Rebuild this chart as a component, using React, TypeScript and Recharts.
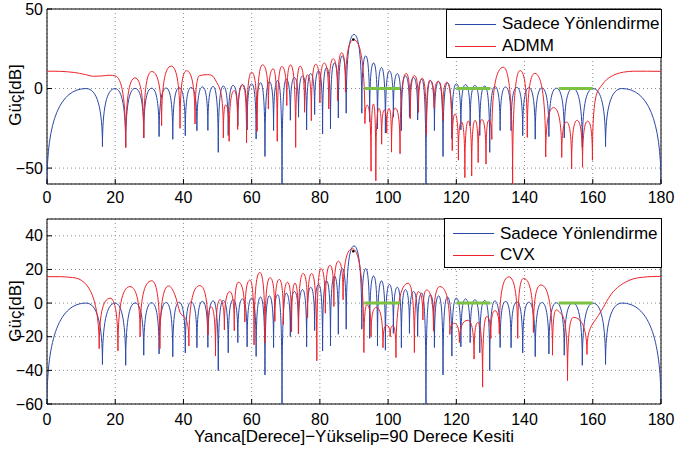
import React from 'react';
import {
  LineChart,
  Line,
  XAxis,
  YAxis,
  CartesianGrid,
  ReferenceArea,
  ReferenceLine,
  ReferenceDot,
} from 'recharts';

const FONT = '"Liberation Sans", Arial, Helvetica, sans-serif';

const X_TICKS = [0, 20, 40, 60, 80, 100, 120, 140, 160, 180];
const TOP_Y_TICKS = [-50, 0, 50];
const BOTTOM_Y_TICKS = [-60, -40, -20, 0, 20, 40];
const Y_DOMAIN = [-60, 50];
const X_DOMAIN = [0, 180];

const CONSTRAINT_BANDS = [
  [93, 103.5],
  [120, 130],
  [150, 160],
];

const LABEL_STEERING = 'Sadece Yönlendirme';
const LABEL_ADMM = 'ADMM';
const LABEL_CVX = 'CVX';
const Y_LABEL = 'Güç[dB]';
const X_LABEL = 'Yanca[Derece]−Yükselip=90 Derece Kesiti';

// steering-only pattern (same in both panels): [angle, dB]
const STEERING = [
  [0, -60], [11.48, 0], [16.26, -36.5], [19.95, 0], [23.07, -37], [25.84, 0.1], [28.36, -31], [30.68, 0.2],
  [32.86, -30.2], [34.92, 0.3], [36.87, -31.9], [38.74, 0.5], [40.54, -29.6], [42.27, 0.7], [43.95, -26.5],
  [45.57, 1.0], [47.16, -26.3], [48.7, 1.3], [50.21, -40.1], [51.68, 1.6], [53.13, -29.5], [54.55, 2.0],
  [55.94, -23.5], [57.32, 2.5], [58.67, -26], [60.0, 3.0], [61.31, -31.7], [62.61, 3.6], [63.9, -42.7],
  [65.17, 4.3], [66.42, -26.4], [67.67, 5.0], [68.9, -60], [70.12, 5.9], [71.34, -19.9], [72.54, 6.9],
  [73.74, -18], [74.93, 8.0], [76.11, -26], [77.29, 9.4], [78.46, -16.3], [79.63, 11.1], [80.79, -28.5],
  [81.95, 13.2], [83.11, -25.4], [84.26, 16.1], [85.41, -18.5], [86.56, 20.5], [87.71, -15.5], [90.0, 34],
  [92.29, -15.5], [93.44, 20.5], [94.59, -21], [95.74, 16.1], [96.89, -25.4], [98.05, 13.2], [99.21, -28],
  [100.37, 11.1], [101.54, -18], [102.71, 9.4], [103.89, -26.5], [105.07, 8.0], [106.26, -18], [107.46, 6.9],
  [108.66, -19.8], [109.88, 5.9], [111.1, -60], [112.33, 5.0], [113.58, -26.4], [114.83, 4.3], [116.1, -42.7],
  [117.39, 3.6], [118.69, -31.5], [120.0, 3.0], [121.33, -26], [122.68, 2.5], [124.06, -23.5], [125.45, 2.0],
  [126.87, -29.5], [128.32, 1.6], [129.79, -40.1], [131.3, 1.3], [132.84, -26.4], [134.43, 1.0], [136.05, -26.5],
  [137.73, 0.7], [139.46, -29.6], [141.26, 0.5], [143.13, -31.8], [145.08, 0.3], [147.14, -30.2], [149.32, 0.2],
  [151.64, -31], [154.16, 0.1], [156.93, -37], [160.05, 0], [163.74, -36.5], [168.52, 0], [180, -60],
];

// ADMM pattern (top panel)
const ADMM = [
  [0, 10.9], [4, 10.8], [8, 10.1], [11, 8.9], [13.6, 7.7], [16, 7.9], [18.4, 8.4], [19.9, 8.0],
  [23.07, -37], [25.8, 6.7], [28.36, -31], [30.7, 10.7], [33.6, -23.3], [36.4, 14.1], [39.0, -25], [40.9, 11.2],
  [43.4, -22.3], [44.8, 8.2], [46.6, 8.7], [48.6, 7.8], [50.1, 2.5], [51.7, -31], [52.4, -10.3], [53.4, -33.2],
  [54.9, -1.3], [55.9, -25.8], [57.4, 2.3], [58.5, -34.2], [60.0, 10.3], [61.6, -26.9], [63.2, 14.9],
  [64.9, -12.8], [66.3, 12.4], [67.5, -33.2], [68.8, 13.9], [70.3, -10.7], [71.4, 14.9], [72.9, -37],
  [74.2, 14.1], [75.5, -14.9], [76.4, 8.6], [77.5, -20.2], [78.8, 15.3], [80.0, -9], [81.3, 16], [82.6, -12.8],
  [83.9, 18.7], [85.2, -7.6], [86.4, 22.5], [87.5, -2.3], [89.9, 30.7],
  [93.2, -22], [93.9, -10.5], [95.0, -52], [95.7, -9.7], [96.4, -58], [97.3, -12.5], [98.1, -35], [98.9, -13.5],
  [99.6, -28], [100.3, -12.5], [101.0, -40], [102.1, -12.3], [103.5, -41], [105.3, 9.5], [106.5, -19],
  [107.7, 8.2], [108.9, -15], [110.0, 6.5], [111.2, -29], [112.3, 5.2], [113.5, -12], [114.7, 4.6], [116.0, -20],
  [117.2, 4], [118.8, -39], [119.6, -16], [120.6, -45], [121.5, -21], [122.5, -56], [123.5, -20.5], [124.5, -55],
  [125.5, -20], [126.4, -46.5], [127.5, -19.5], [128.7, -47.5], [129.5, -20], [130.4, -32], [133.8, 13.4],
  [136.5, -60], [138.7, 11.3], [140.8, -30.7], [143.0, 9.5], [146.2, -43], [148.5, -12], [150.9, -43.3],
  [152.3, -21], [153.8, -50.6], [155.4, -20], [157.0, -49.5], [158.5, -20.5], [159.9, -45.1], [161.9, 0],
  [164, 5.5], [166.5, 8.8], [169, 10.3], [172, 10.9], [176, 10.9], [180, 10.8],
];

// CVX pattern (bottom panel)
const CVX = [
  [0, 15.7], [4, 15.7], [7.5, 15.2], [15.3, -27.1], [18.5, 2.9], [20.8, -28.4], [24.3, 9.8], [27.3, -20],
  [30.7, 13.3], [33.1, -27.1], [35.7, 10.2], [37.5, 4.9], [39.0, -5.5], [40.3, -8.3], [41.6, -25.5],
  [44.8, 10.4], [47.2, -18.8], [48.1, -2.2], [49.4, -31.5], [50.7, 2], [52.0, -16], [53.6, 6.8], [54.9, -16.4],
  [56.1, 12.4], [58.0, -11.2], [59.5, 13.7], [60.7, -24.9], [62.4, 18.2], [63.9, -23.5], [65.4, 15.1],
  [66.8, -10.8], [68.1, 14.1], [69.3, -12.8], [70.5, 12.4], [71.7, -17.1], [72.7, 11.8], [73.7, -18.2],
  [75.1, 17.6], [76.4, -8.7], [77.6, 17.6], [79.1, -34.3], [80.3, 20.5], [81.6, -6], [83.0, 22.5], [84.1, -2],
  [85.4, 24.9], [86.8, 2], [89.5, 32.3],
  [92.9, -29.4], [93.8, -1], [95.0, -20], [96.5, -2.6], [98.5, -26.5], [99.5, -13.2], [100.6, -20],
  [101.4, -13.5], [102.3, -32.4], [105.9, 11.8], [107.7, -29.4], [108.9, 6.8], [110.2, -10], [111.3, 7.8],
  [113.3, -16.7], [115.2, 9.8], [118.1, -18.6], [119.4, -12], [120.9, -23.5], [123.4, -10.2], [125.2, -33.3],
  [126.3, -11.5], [127.7, -50], [128.9, -8], [130.1, -21], [131.3, -4.5], [132.6, -18.4], [135.4, 15.6],
  [138.0, -21], [139.7, 14.7], [142.6, -17.5], [144.8, 10.8], [148.2, -31], [149.3, -4], [150.8, -6.5],
  [152.6, -46.1], [154.3, -8.5], [158.3, -30.5], [162.1, -5.9], [166, 6.8], [170.9, 13.7], [175.8, 15.6],
  [180, 15.9],
];

const PEAK_MARK = [89.8, 30.8];

const BLUE = '#2a48a8';
const RED = '#ee2229';
const GREEN = '#7bc143';

const toRows = (pts: number[][]) => pts.map(([x, y]) => ({ x, y }));

// Curve drawing: rounded lobes with sharp nulls (cusps) at deep local minima.
function lobeCurve(context: any) {
  let pts: number[][] = [];
  return {
    areaStart() {},
    areaEnd() {},
    lineStart() {
      pts = [];
    },
    point(x: number, y: number) {
      pts.push([+x, +y]);
    },
    lineEnd() {
      const n = pts.length;
      if (!n) return;
      const TH = 4;
      const isMin = pts.map((p, i) => {
        const prev = pts[i - 1];
        const next = pts[i + 1];
        if (!prev && !next) return false;
        const okP = !prev || p[1] - prev[1] >= TH;
        const okN = !next || p[1] - next[1] >= TH;
        return okP && okN;
      });
      const tan = pts.map((p, i) => {
        if (isMin[i]) return 0;
        const prev = pts[i - 1];
        const next = pts[i + 1];
        if (prev && next) {
          if ((p[1] <= prev[1] && p[1] <= next[1]) || (p[1] >= prev[1] && p[1] >= next[1])) return 0;
        }
        const uP = prev && !isMin[i - 1] ? prev : null;
        const uN = next && !isMin[i + 1] ? next : null;
        if (uP && uN) return (uN[1] - uP[1]) / (uN[0] - uP[0]);
        if (uP) return (p[1] - uP[1]) / (p[0] - uP[0]);
        if (uN) return (uN[1] - p[1]) / (uN[0] - p[0]);
        return 0;
      });
      context.moveTo(pts[0][0], pts[0][1]);
      for (let i = 1; i < n; i++) {
        const a = pts[i - 1];
        const b = pts[i];
        const dx = b[0] - a[0];
        let c1x: number, c1y: number, c2x: number, c2y: number;
        if (isMin[i - 1]) {
          c1x = a[0];
          c1y = a[1] + ((b[1] - a[1]) * 2) / 3;
        } else {
          const h = isMin[i] ? 2 / 3 : 1 / 3;
          c1x = a[0] + h * dx;
          c1y = a[1] + tan[i - 1] * h * dx;
        }
        if (isMin[i]) {
          c2x = b[0];
          c2y = b[1] + ((a[1] - b[1]) * 2) / 3;
        } else {
          const h = isMin[i - 1] ? 2 / 3 : 1 / 3;
          c2x = b[0] - h * dx;
          c2y = b[1] - tan[i] * h * dx;
        }
        context.bezierCurveTo(c1x, c1y, c2x, c2y, b[0], b[1]);
      }
    },
  };
}

const fmt = (v: number) => String(v).replace('-', '\u2212');
const tickStyle = { fontSize: 16, fill: '#000', fontFamily: FONT };

function Panel(props: {
  top: number;
  height: number;
  xAxisHeight: number;
  xTickMargin: number;
  yTicks: number[];
  optimized: number[][];
  xLabel?: string;
}) {
  const { top, height, xAxisHeight, xTickMargin, yTicks, optimized, xLabel } = props;
  return (
    <div style={{ position: 'absolute', left: 0, top, width: 676, height }}>
      <LineChart width={676} height={height} margin={{ top: 9, right: 15, left: 0, bottom: 0 }}>
        <CartesianGrid stroke="#8a8a8a" strokeDasharray="1 3" />
        <XAxis
          dataKey="x"
          type="number"
          domain={X_DOMAIN}
          ticks={X_TICKS}
          interval={0}
          allowDataOverflow
          tickSize={-5}
          tickMargin={xTickMargin}
          axisLine={false}
          tickLine={{ stroke: '#000' }}
          tick={tickStyle}
          height={xAxisHeight}
          label={
            xLabel
              ? { value: xLabel, position: 'insideBottom', offset: 10, fill: '#000', fontSize: 17, fontFamily: FONT }
              : undefined
          }
        />
        <XAxis
          xAxisId="top"
          orientation="top"
          type="number"
          domain={X_DOMAIN}
          ticks={X_TICKS}
          interval={0}
          allowDataOverflow
          tickSize={-5}
          axisLine={false}
          tickLine={{ stroke: '#000' }}
          tick={false}
          height={0}
        />
        <YAxis
          type="number"
          domain={Y_DOMAIN}
          ticks={yTicks}
          interval={0}
          allowDataOverflow
          tickSize={-5}
          tickMargin={9}
          width={47}
          axisLine={false}
          tickLine={{ stroke: '#000' }}
          tick={tickStyle}
          tickFormatter={fmt}
        />
        <YAxis
          yAxisId="right"
          orientation="right"
          type="number"
          domain={Y_DOMAIN}
          ticks={yTicks}
          interval={0}
          allowDataOverflow
          tickSize={-5}
          width={0}
          axisLine={false}
          tickLine={{ stroke: '#000' }}
          tick={false}
        />
        <Line
          data={toRows(STEERING)}
          dataKey="y"
          type={lobeCurve as any}
          stroke={BLUE}
          strokeWidth={1}
          dot={false}
          activeDot={false}
          isAnimationActive={false}
        />
        <Line
          data={toRows(optimized)}
          dataKey="y"
          type={lobeCurve as any}
          stroke={RED}
          strokeWidth={1}
          dot={false}
          activeDot={false}
          isAnimationActive={false}
        />
        {CONSTRAINT_BANDS.map(([a, b], i) => (
          <ReferenceLine
            key={i}
            segment={[
              { x: a, y: 0 },
              { x: b, y: 0 },
            ]}
            stroke={GREEN}
            strokeWidth={3}
          />
        ))}
        <ReferenceDot x={PEAK_MARK[0]} y={PEAK_MARK[1]} r={1.3} fill="#000" stroke="none" />
        <ReferenceArea
          x1={X_DOMAIN[0]}
          x2={X_DOMAIN[1]}
          y1={Y_DOMAIN[0]}
          y2={Y_DOMAIN[1]}
          fill="none"
          fillOpacity={0}
          stroke="#000"
          strokeWidth={1}
          ifOverflow="visible"
        />
      </LineChart>
    </div>
  );
}

function LegendBox(props: { left: number; top: number; width: number; height: number; rows: { label: string; color: string; y: number }[] }) {
  const { left, top, width, height, rows } = props;
  return (
    <div
      style={{
        position: 'absolute',
        left,
        top,
        width,
        height,
        border: '1px solid #000',
        background: '#fff',
        boxSizing: 'border-box',
      }}
    >
      {rows.map((r, i) => (
        <div
          key={i}
          style={{ position: 'absolute', left: 0, top: r.y - 10, height: 20, display: 'flex', alignItems: 'center' }}
        >
          <div style={{ marginLeft: 8, width: 41, height: 1, background: r.color }} />
          <span style={{ marginLeft: 6, fontSize: 17, lineHeight: '20px', whiteSpace: 'nowrap', color: '#000' }}>
            {r.label}
          </span>
        </div>
      ))}
    </div>
  );
}

function YLabel(props: { cy: number }) {
  return (
    <div
      style={{
        position: 'absolute',
        left: 16 - 60,
        top: props.cy - 10,
        width: 120,
        height: 20,
        lineHeight: '20px',
        textAlign: 'center',
        fontSize: 17,
        transform: 'rotate(-90deg)',
        color: '#000',
      }}
    >
      {Y_LABEL}
    </div>
  );
}

export default function App() {
  return (
    <div
      style={{
        position: 'absolute',
        left: 0,
        top: 0,
        width: 676,
        height: 452,
        background: '#fff',
        fontFamily: FONT,
        overflow: 'hidden',
      }}
    >
      <Panel top={0} height={210} xAxisHeight={26} xTickMargin={13} yTicks={TOP_Y_TICKS} optimized={ADMM} />
      <Panel
        top={210}
        height={242}
        xAxisHeight={48}
        xTickMargin={15}
        yTicks={BOTTOM_Y_TICKS}
        optimized={CVX}
        xLabel={X_LABEL}
      />
      <LegendBox
        left={446}
        top={9}
        width={216}
        height={49}
        rows={[
          { label: LABEL_STEERING, color: BLUE, y: 14 },
          { label: LABEL_ADMM, color: RED, y: 36 },
        ]}
      />
      <LegendBox
        left={444}
        top={218}
        width={218}
        height={50}
        rows={[
          { label: LABEL_STEERING, color: BLUE, y: 14.5 },
          { label: LABEL_CVX, color: RED, y: 36 },
        ]}
      />
      <YLabel cy={95} />
      <YLabel cy={311} />
    </div>
  );
}
